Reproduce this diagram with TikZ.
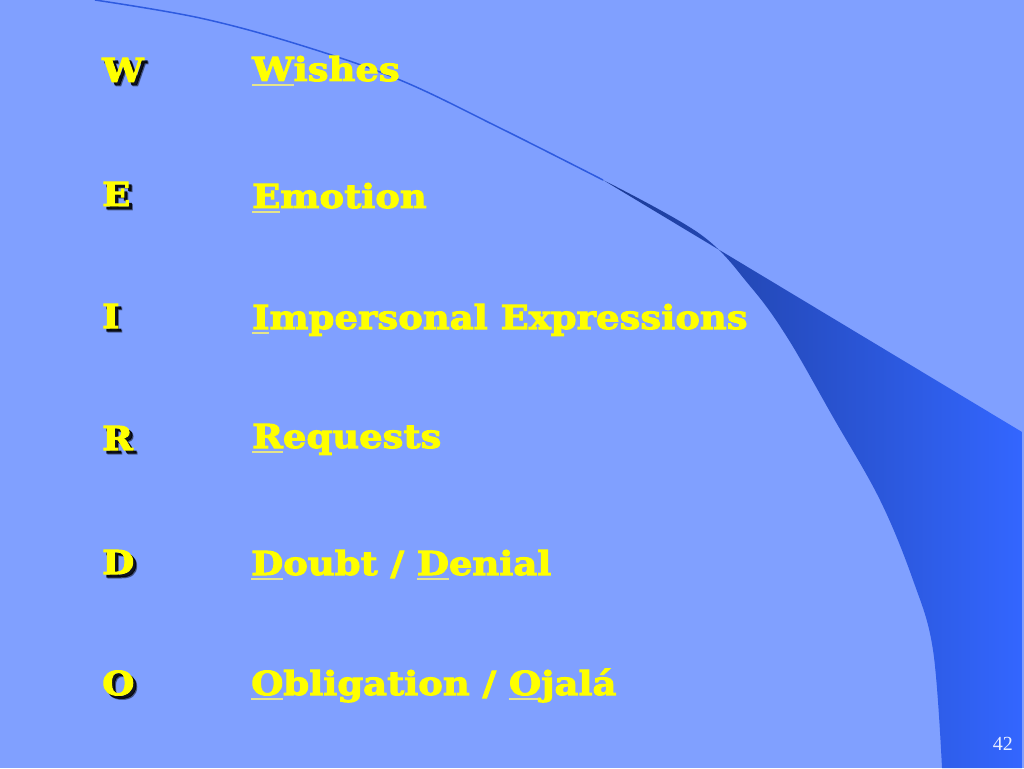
\documentclass[tikz,border=0pt]{standalone}
\usepackage{fontspec}
\setmainfont{DejaVu Serif}
\newfontfamily\heavyfont{DejaVu Serif Bold}[FakeBold=3, FakeStretch=1.12]
\newfontfamily\numfont{Liberation Serif}
\definecolor{bgblue}{HTML}{80A0FF}
\definecolor{curldark}{HTML}{1C3A94}
\definecolor{curlbright}{HTML}{3366FF}
\definecolor{edgeblue}{HTML}{2E5BE0}
\definecolor{txtyellow}{HTML}{FFFF00}
\definecolor{ulyellow}{HTML}{E4E48C}
\definecolor{numwhite}{HTML}{E8EEFF}
\newcommand\firstul[1]{\setbox0\hbox{#1}\rlap{\color{ulyellow}\rule[-5pt]{\wd0}{2pt}}\box0}
\tikzset{
  word/.style={anchor=base west, inner sep=0pt, text=txtyellow, font=\heavyfont\fontsize{33}{40}\selectfont},
  letter/.style={anchor=base west, inner sep=0pt, text=txtyellow, font=\heavyfont\fontsize{33}{40}\selectfont},
  lshadow/.style={anchor=base west, inner sep=0pt, text=black, font=\heavyfont\fontsize{33}{40}\selectfont},
  pagenum/.style={anchor=base east, inner sep=0pt, text=numwhite, font=\numfont\fontsize{20}{24}\selectfont}
}
\begin{document}
\begin{tikzpicture}[x=1pt,y=-1pt]
\fill[bgblue] (0,0) rectangle (1024,768);
\useasboundingbox (0,0) rectangle (1024,768);
% page curl
\shade[left color=curldark, right color=curlbright]
  (603,180) -- (1022,432) -- (1022,768) -- (942,768)
  -- plot[smooth, tension=0.6] coordinates {(942,768) (933,650) (913,580) (880,500) (833,417) (787,337) (750,286) (700,234) (603,180)} -- cycle;
\draw[edgeblue, line width=1.5pt] plot[smooth, tension=0.6] coordinates {(95,0) (200,18) (300,45) (400,80) (500,128) (603,180)};
% left letters
\foreach \n/\t/\yy in {lw/W/82, le/E/206, li/I/328, lr/R/450, ld/D/574, lo/O/695}{
  \node[lshadow, opacity=0.35] at (106,\yy+4) {\t};
  \node[lshadow, opacity=0.8] at (105,\yy+3) {\t};
  \node[letter] (\n) at (102,\yy) {\t};
}
% words
\node[word] (ww) at (252,81) {\firstul{W}ishes};
\node[word] (we) at (252,208) {\firstul{E}motion};
\node[word] (wi) at (252,329) {\firstul{I}mpersonal Expressions};
\node[word] (wr) at (252,448) {\firstul{R}equests};
\node[word] (wd) at (251,575) {\firstul{D}oubt / \firstul{D}enial};
\node[word] (wo) at (251,695) {\firstul{O}bligation / \firstul{O}jalá};
\node[pagenum] (pn) at (1013,750) {42};
\end{tikzpicture}
\end{document}
